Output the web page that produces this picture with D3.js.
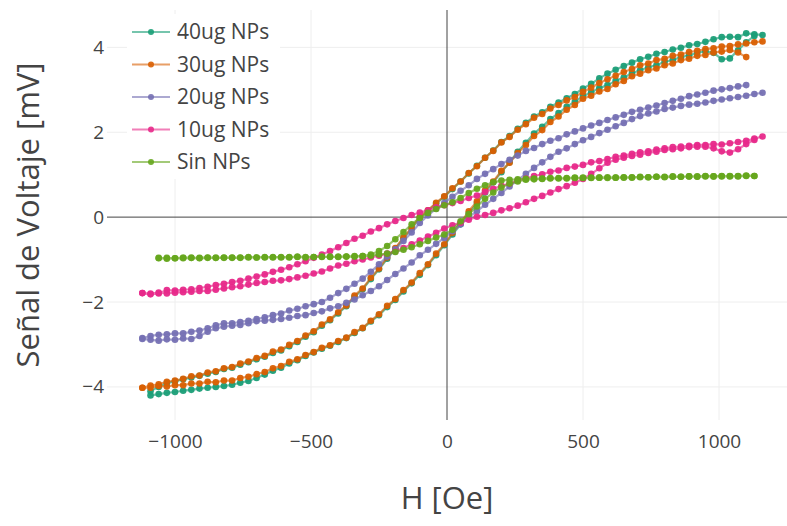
<!DOCTYPE html>
<html>
<head>
<meta charset="utf-8">
<script src="https://cdn.jsdelivr.net/npm/d3@7"></script>
<style>
  html, body { margin: 0; padding: 0; background: #fff; }
  svg text { font-family: "Open Sans", sans-serif; fill: #444; }
</style>
</head>
<body>
<svg id="chart" width="787" height="526"></svg>
<script>
// Applied field grid (Oe); every branch below is sampled on these values.
const fieldOe = [
  -1120, -1090, -1060, -1030, -1000, -970, -940, -910, -880, -850,
  -820, -790, -760, -730, -700, -670, -640, -610, -580, -550,
  -520, -490, -460, -430, -400, -370, -340, -310, -280, -250,
  -220, -190, -160, -130, -100, -70, -40, -10, 20, 50,
  80, 110, 140, 170, 200, 230, 260, 290, 320, 350,
  380, 410, 440, 470, 500, 530, 560, 590, 620, 650,
  680, 710, 740, 770, 800, 830, 860, 890, 920, 950,
  980, 1010, 1040, 1070, 1100, 1130, 1160
];

// Voltage signal (mV). "Desc" = field sweeping down, "Asc" = field sweeping up.
const np40Desc = [
  null, -4.10, -4.00, -3.91, -3.87, -3.82, -3.78, -3.74, -3.69, -3.65,
  -3.58, -3.55, -3.48, -3.42, -3.35, -3.29, -3.20, -3.14, -3.04, -2.94,
  -2.82, -2.71, -2.56, -2.43, -2.27, -2.10, -1.88, -1.70, -1.46, -1.23,
  -0.98, -0.75, -0.50, -0.27, -0.02, 0.15, 0.32, 0.48, 0.66, 0.84,
  1.03, 1.21, 1.40, 1.57, 1.77, 1.91, 2.08, 2.22, 2.37, 2.47,
  2.60, 2.70, 2.80, 2.90, 3.03, 3.14, 3.27, 3.38, 3.47, 3.56,
  3.64, 3.72, 3.78, 3.85, 3.89, 3.95, 3.99, 4.05, 4.08, 4.13,
  4.19, 4.24, 4.25, 4.24, 4.33, 4.31, 4.29
];
const np40Asc = [
  null, -4.20, -4.17, -4.14, -4.12, -4.09, -4.07, -4.04, -4.02, -4.00,
  -3.98, -3.95, -3.90, -3.86, -3.79, -3.71, -3.62, -3.55, -3.45, -3.37,
  -3.27, -3.19, -3.10, -3.03, -2.94, -2.85, -2.73, -2.62, -2.46, -2.31,
  -2.12, -1.95, -1.75, -1.56, -1.36, -1.13, -0.90, -0.66, -0.41, -0.17,
  0.09, 0.33, 0.58, 0.82, 1.06, 1.29, 1.54, 1.75, 1.97, 2.13,
  2.31, 2.45, 2.60, 2.72, 2.85, 2.94, 3.04, 3.11, 3.21, 3.29,
  3.39, 3.46, 3.53, 3.58, 3.66, 3.70, 3.77, 3.81, 3.87, 3.91,
  3.87, 3.72, 3.74, 3.93, 4.12, 4.27, null
];
const np30Desc = [
  -4.02, -3.97, -3.94, -3.88, -3.85, -3.81, -3.75, -3.73, -3.66, -3.63,
  -3.56, -3.53, -3.45, -3.40, -3.32, -3.27, -3.17, -3.12, -3.01, -2.92,
  -2.79, -2.69, -2.53, -2.41, -2.24, -2.08, -1.85, -1.68, -1.43, -1.21,
  -0.95, -0.73, -0.48, -0.25, 0.01, 0.16, 0.34, 0.49, 0.68, 0.84,
  1.04, 1.20, 1.40, 1.56, 1.76, 1.89, 2.06, 2.19, 2.34, 2.43,
  2.56, 2.64, 2.75, 2.83, 2.95, 3.05, 3.16, 3.25, 3.33, 3.42,
  3.49, 3.58, 3.62, 3.70, 3.73, 3.80, 3.83, 3.89, 3.92, 3.96,
  3.98, 4.02, 4.03, 4.07, 4.09, 4.12, 4.14
];
const np30Asc = [
  -4.02, -4.02, -3.98, -3.99, -3.96, -3.96, -3.92, -3.92, -3.88, -3.89,
  -3.85, -3.85, -3.79, -3.76, -3.70, -3.65, -3.56, -3.51, -3.41, -3.35,
  -3.25, -3.18, -3.08, -3.02, -2.92, -2.84, -2.71, -2.61, -2.44, -2.29,
  -2.09, -1.93, -1.72, -1.54, -1.32, -1.11, -0.86, -0.64, -0.37, -0.14,
  0.14, 0.37, 0.63, 0.84, 1.09, 1.28, 1.51, 1.70, 1.91, 2.05,
  2.24, 2.37, 2.53, 2.64, 2.79, 2.86, 2.96, 3.02, 3.13, 3.21,
  3.32, 3.38, 3.46, 3.50, 3.58, 3.62, 3.70, 3.73, 3.80, 3.82,
  3.88, 3.90, 3.94, 3.88, 3.77, null, null
];
const np20Desc = [
  -2.85, -2.80, -2.77, -2.76, -2.74, -2.74, -2.70, -2.67, -2.62, -2.55,
  -2.50, -2.50, -2.47, -2.44, -2.40, -2.36, -2.31, -2.27, -2.20, -2.16,
  -2.10, -2.05, -2.00, -1.90, -1.79, -1.69, -1.57, -1.45, -1.29, -1.11,
  -0.93, -0.76, -0.56, -0.36, -0.14, 0.04, 0.20, 0.33, 0.48, 0.62,
  0.75, 0.90, 1.02, 1.13, 1.25, 1.35, 1.45, 1.56, 1.63, 1.72,
  1.80, 1.86, 1.95, 2.02, 2.09, 2.16, 2.22, 2.29, 2.35, 2.41,
  2.48, 2.53, 2.58, 2.63, 2.69, 2.74, 2.79, 2.85, 2.89, 2.93,
  2.98, 3.01, 3.04, 3.08, 3.11, null, null
];
const np20Asc = [
  -2.87, -2.89, -2.91, -2.88, -2.89, -2.86, -2.87, -2.80, -2.70, -2.62,
  -2.58, -2.56, -2.54, -2.50, -2.45, -2.44, -2.42, -2.40, -2.37, -2.33,
  -2.31, -2.26, -2.22, -2.15, -2.10, -2.02, -1.94, -1.84, -1.74, -1.63,
  -1.48, -1.34, -1.21, -1.07, -0.90, -0.77, -0.63, -0.49, -0.33, -0.17,
  0.00, 0.14, 0.29, 0.43, 0.57, 0.72, 0.87, 1.02, 1.16, 1.29,
  1.42, 1.54, 1.62, 1.72, 1.81, 1.89, 1.98, 2.06, 2.14, 2.22,
  2.31, 2.38, 2.44, 2.49, 2.55, 2.58, 2.62, 2.65, 2.67, 2.70,
  2.74, 2.77, 2.80, 2.83, 2.86, 2.90, 2.93
];
const np10Desc = [
  -1.79, -1.82, -1.80, -1.72, -1.73, -1.71, -1.70, -1.67, -1.64, -1.60,
  -1.57, -1.53, -1.50, -1.45, -1.40, -1.35, -1.29, -1.24, -1.18, -1.11,
  -1.04, -0.96, -0.88, -0.80, -0.71, -0.61, -0.51, -0.44, -0.34, -0.26,
  -0.17, -0.09, -0.02, 0.05, 0.11, 0.16, 0.23, 0.28, 0.33, 0.38,
  0.45, 0.51, 0.59, 0.67, 0.74, 0.79, 0.86, 0.91, 0.97, 1.01,
  1.07, 1.10, 1.16, 1.19, 1.23, 1.29, 1.32, 1.37, 1.42, 1.45,
  1.49, 1.53, 1.55, 1.59, 1.62, 1.65, 1.66, 1.68, 1.70, 1.70,
  1.72, 1.71, 1.74, 1.77, 1.80, 1.85, 1.90
];
const np10Asc = [
  -1.79, -1.80, -1.78, -1.80, -1.78, -1.77, -1.76, -1.74, -1.74, -1.71,
  -1.68, -1.65, -1.63, -1.59, -1.55, -1.53, -1.50, -1.49, -1.46, -1.42,
  -1.38, -1.33, -1.28, -1.21, -1.14, -1.10, -1.04, -1.00, -0.95, -0.91,
  -0.86, -0.81, -0.73, -0.64, -0.55, -0.46, -0.37, -0.27, -0.19, -0.13,
  -0.06, 0.01, 0.05, 0.10, 0.16, 0.21, 0.27, 0.35, 0.43, 0.50,
  0.58, 0.66, 0.73, 0.81, 0.90, 1.02, 1.15, 1.28, 1.35, 1.40,
  1.44, 1.47, 1.51, 1.54, 1.58, 1.60, 1.62, 1.65, 1.66, 1.66,
  1.62, 1.55, 1.52, 1.60, 1.72, 1.82, null
];
const np0Desc = [
  null, null, -0.97, -0.96, -0.97, -0.95, -0.96, -0.96, -0.95, -0.96,
  -0.95, -0.96, -0.95, -0.94, -0.95, -0.95, -0.94, -0.95, -0.94, -0.94,
  -0.95, -0.94, -0.94, -0.93, -0.94, -0.93, -0.93, -0.92, -0.88, -0.80,
  -0.68, -0.52, -0.35, -0.17, -0.02, 0.10, 0.19, 0.28, 0.35, 0.45,
  0.57, 0.67, 0.75, 0.82, 0.86, 0.88, 0.89, 0.90, 0.91, 0.91,
  0.92, 0.91, 0.92, 0.93, 0.92, 0.93, 0.93, 0.92, 0.93, 0.94,
  0.93, 0.94, 0.94, 0.95, 0.94, 0.95, 0.95, 0.96, 0.95, 0.96,
  0.96, 0.96, 0.97, 0.96, 0.97, 0.97, null
];
const np0Asc = [
  null, null, -0.96, -0.98, -0.97, -0.97, -0.96, -0.97, -0.96, -0.96,
  -0.96, -0.95, -0.96, -0.95, -0.95, -0.94, -0.95, -0.94, -0.95, -0.93,
  -0.94, -0.94, -0.93, -0.94, -0.93, -0.93, -0.92, -0.92, -0.91, -0.88,
  -0.86, -0.82, -0.77, -0.71, -0.64, -0.56, -0.48, -0.41, -0.30, -0.10,
  0.07, 0.25, 0.43, 0.58, 0.70, 0.79, 0.84, 0.88, 0.89, 0.90,
  0.91, 0.92, 0.91, 0.92, 0.93, 0.92, 0.93, 0.94, 0.93, 0.93,
  0.94, 0.95, 0.94, 0.95, 0.95, 0.96, 0.95, 0.96, 0.96, 0.97,
  0.96, 0.97, 0.96, 0.97, 0.98, 0.97, null
];

const seriesNames = ["40ug NPs", "30ug NPs", "20ug NPs", "10ug NPs", "Sin NPs"];
const seriesColors = ["#1b9e77", "#d95f02", "#7570b3", "#e7298a", "#66a61e"];
const seriesDesc = [np40Desc, np30Desc, np20Desc, np10Desc, np0Desc];
const seriesAsc = [np40Asc, np30Asc, np20Asc, np10Asc, np0Asc];

const xTicks = [-1000, -500, 0, 500, 1000];
const yTicks = [-4, -2, 0, 2, 4];
const xTitle = "H [Oe]";
const yTitle = "Señal de Voltaje [mV]";

// ---- layout ----
const W = 787, H = 526;
const plot = { left: 107, right: 787, top: 10, bottom: 420 };

const x = d3.scaleLinear().domain([-1250, 1250]).range([plot.left, plot.right]);
const y = d3.scaleLinear().domain([-4.78, 4.88]).range([plot.bottom, plot.top]);

const svg = d3.select("#chart");
svg.append("rect").attr("width", W).attr("height", H).attr("fill", "#fff");

svg.append("defs").append("clipPath").attr("id", "plotClip")
  .append("rect")
  .attr("x", plot.left).attr("y", plot.top)
  .attr("width", plot.right - plot.left).attr("height", plot.bottom - plot.top);

// grid
const grid = svg.append("g");
grid.selectAll(".gx").data(xTicks.filter(d => d !== 0)).join("line")
  .attr("x1", d => x(d)).attr("x2", d => x(d))
  .attr("y1", plot.top).attr("y2", plot.bottom)
  .attr("stroke", "#eee").attr("stroke-width", 1);
grid.selectAll(".gy").data(yTicks.filter(d => d !== 0)).join("line")
  .attr("y1", d => y(d)).attr("y2", d => y(d))
  .attr("x1", plot.left).attr("x2", plot.right)
  .attr("stroke", "#eee").attr("stroke-width", 1);

// zero lines
svg.append("line")
  .attr("x1", x(0)).attr("x2", x(0)).attr("y1", plot.top).attr("y2", plot.bottom)
  .attr("stroke", "#444").attr("stroke-width", 1);
svg.append("line")
  .attr("y1", y(0)).attr("y2", y(0)).attr("x1", plot.left).attr("x2", plot.right)
  .attr("stroke", "#444").attr("stroke-width", 1);

// axes (labels only)
const tickFont = 19;
const fmt = d3.format("d");
const xAxis = svg.append("g")
  .attr("transform", `translate(0,${plot.bottom})`)
  .call(d3.axisBottom(x).tickValues(xTicks).tickFormat(fmt).tickSize(0).tickPadding(14.5));
const yAxis = svg.append("g")
  .attr("transform", `translate(${plot.left},0)`)
  .call(d3.axisLeft(y).tickValues(yTicks).tickFormat(fmt).tickSize(0).tickPadding(3));
[xAxis, yAxis].forEach(g => {
  g.select(".domain").remove();
  g.selectAll("text").attr("font-size", tickFont)
    .attr("font-family", "'Open Sans', sans-serif").attr("fill", "#444");
});

// axis titles
svg.append("text")
  .attr("x", (plot.left + plot.right) / 2).attr("y", 509)
  .attr("text-anchor", "middle").attr("font-size", 31)
  .text(xTitle);
svg.append("text")
  .attr("transform", `translate(39,${(plot.top + plot.bottom) / 2}) rotate(-90)`)
  .attr("text-anchor", "middle").attr("font-size", 31)
  .text(yTitle);

// loops: field sweeps down from the high end, then back up
function loopPoints(desc, asc) {
  const pts = [];
  for (let i = fieldOe.length - 1; i >= 0; i--) {
    if (desc[i] !== null) pts.push([fieldOe[i], desc[i]]);
  }
  for (let i = 0; i < fieldOe.length; i++) {
    if (asc[i] !== null) pts.push([fieldOe[i], asc[i]]);
  }
  return pts;
}

const line = d3.line().x(d => x(d[0])).y(d => y(d[1]));
const dataLayer = svg.append("g").attr("clip-path", "url(#plotClip)");

seriesNames.forEach((name, s) => {
  const pts = loopPoints(seriesDesc[s], seriesAsc[s]);
  const g = dataLayer.append("g");
  g.append("path").datum(pts)
    .attr("d", line)
    .attr("fill", "none")
    .attr("stroke", seriesColors[s])
    .attr("stroke-width", 2.2)
    .attr("stroke-opacity", 0.65)
    .attr("stroke-linejoin", "round");
  g.selectAll("circle").data(pts).join("circle")
    .attr("cx", d => x(d[0])).attr("cy", d => y(d[1]))
    .attr("r", 3.3)
    .attr("fill", seriesColors[s])
    .attr("fill-opacity", 0.95);
});

// legend
const legend = svg.append("g");
legend.append("rect")
  .attr("x", 127).attr("y", 14).attr("width", 153).attr("height", 165)
  .attr("fill", "#fff");
seriesNames.forEach((name, s) => {
  const cy = 32 + s * 32.5;
  legend.append("line")
    .attr("x1", 132).attr("x2", 170).attr("y1", cy).attr("y2", cy)
    .attr("stroke", seriesColors[s]).attr("stroke-width", 2).attr("stroke-opacity", 0.6);
  legend.append("circle")
    .attr("cx", 151).attr("cy", cy).attr("r", 3)
    .attr("fill", seriesColors[s]).attr("fill-opacity", 0.9);
  legend.append("text")
    .attr("x", 177).attr("y", cy).attr("dy", "0.35em")
    .attr("font-size", 21)
    .text(name);
});
</script>
</body>
</html>
